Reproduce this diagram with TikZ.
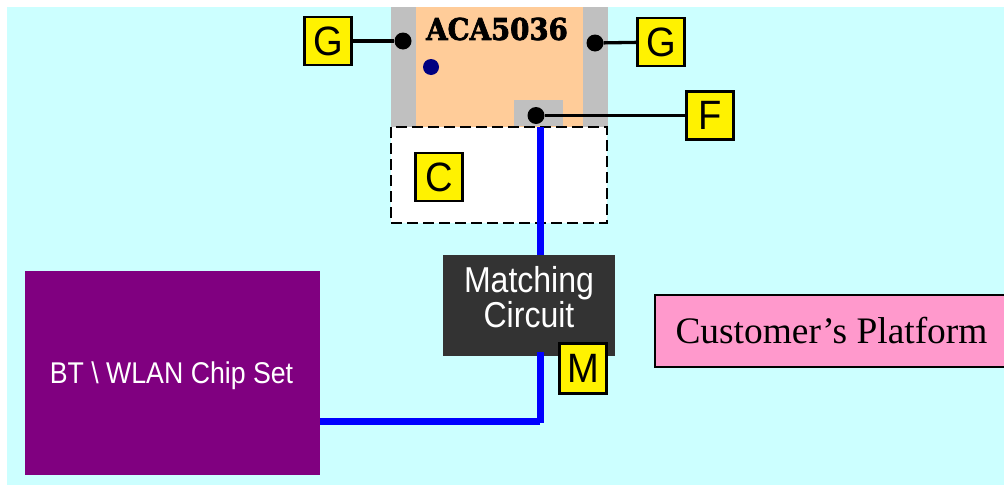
\documentclass[tikz,border=0pt]{standalone}
\usepackage{fontspec}
\setmainfont{Liberation Serif}
\setsansfont{Liberation Sans}
\newfontfamily\fatfont[FakeBold=2.5]{DejaVu Serif Bold}
\definecolor{bgcyan}{HTML}{CCFFFF}
\definecolor{peach}{HTML}{FFCC99}
\definecolor{pinkbox}{HTML}{FF99CC}
\definecolor{chipcol}{HTML}{800080}
\definecolor{darkbox}{HTML}{333333}
\definecolor{greyband}{HTML}{C0C0C0}
\definecolor{navydot}{HTML}{000080}
\newcommand{\narrow}[1]{\scalebox{.89}[1]{#1}}
\newcommand{\tagtext}[1]{\scalebox{.93}[1]{#1}}
\tikzset{
  tagbox/.style={draw=black,fill=yellow,line width=2.3pt,inner sep=0pt,minimum width=47pt,minimum height=48pt,font=\sffamily\fontsize{41}{41}\selectfont,text=black},
  pin/.style={circle,fill=black,inner sep=0pt,minimum size=17pt},
  lead/.style={draw=black,line width=3.3pt},
  feed/.style={draw=blue,line width=7.5pt},
}
\begin{document}
\begin{tikzpicture}[x=1pt,y=-1pt]
\useasboundingbox (0,0) rectangle (1004,485);
\fill[bgcyan] (7,7) rectangle (1004,485);
\fill[greyband] (391,7) rectangle (608,127);
\fill[peach] (416,7) rectangle (583,127);
\fill[greyband] (514,100) rectangle (563,126);
\draw[fill=white,line width=2.3pt,dash pattern=on 11pt off 5pt] (391,127) rectangle (607,223);
\node[anchor=center,font=\fatfont\fontsize{30}{30}\selectfont,inner sep=0pt] (title) at (497,29) {\scalebox{.92}[1]{ACA5036}};
\node[circle,fill=navydot,inner sep=0pt,minimum size=16pt] (led) at (431,67) {};
% blocks
\node[fill=darkbox,inner sep=0pt,minimum width=172pt,minimum height=101pt] (match) at (529,305.5) {};
\node[fill=chipcol,inner sep=0pt,minimum width=295pt,minimum height=204pt] (chip) at (172.5,373) {};
\node[text=white,font=\sffamily\fontsize{30}{30}\selectfont,inner sep=0pt] (chiptext) at (171.5,376) {\narrow{BT \textbackslash{} WLAN Chip Set}};
\node[draw=black,line width=1.7pt,fill=pinkbox,inner sep=0pt,minimum width=350pt,minimum height=72pt] (plat) at (830,331) {};
\node[font=\rmfamily\fontsize{37.4}{37}\selectfont,inner sep=0pt] (plattext) at (831.5,331) {Customer’s Platform};
\node[text=white,align=center,font=\sffamily\fontsize{36}{31}\selectfont,inner sep=0pt] (matchtext) at (529,297) {\narrow{Matching}\\\narrow{Circuit}};
% blue feeds
\coordinate (feedtop) at (540.5,127);
\coordinate (feedin) at (540.5,255);
\coordinate (feedout) at (540.5,352);
\coordinate (feedcorner) at (540.5,423);
\coordinate (chipout) at (320,421.5);
\coordinate (chipturn) at (540,421.5);
\draw[feed] (feedtop) -- (feedin);
\draw[feed] (feedout) -- (feedcorner);
\draw[feed] (chipout) -- (chipturn);
% tags
\node[tagbox] (gl) at (328,41) {\tagtext{G}};
\node[tagbox] (gr) at (661,42) {\tagtext{G}};
\node[tagbox] (f) at (710,115.5) {\tagtext{F}};
\node[tagbox] (c) at (439,177) {\tagtext{C}};
\node[tagbox,minimum height=50pt] (m) at (583,368.5) {\tagtext{M}};
\node[pin] (pl) at (403,41) {};
\node[pin] (pr) at (595,43) {};
\node[pin] (pf) at (536,115.5) {};
\draw[lead] (gl) -- (pl);
\draw[lead] (gr) -- (pr);
\draw[lead] (f) -- (pf);
\end{tikzpicture}
\end{document}
